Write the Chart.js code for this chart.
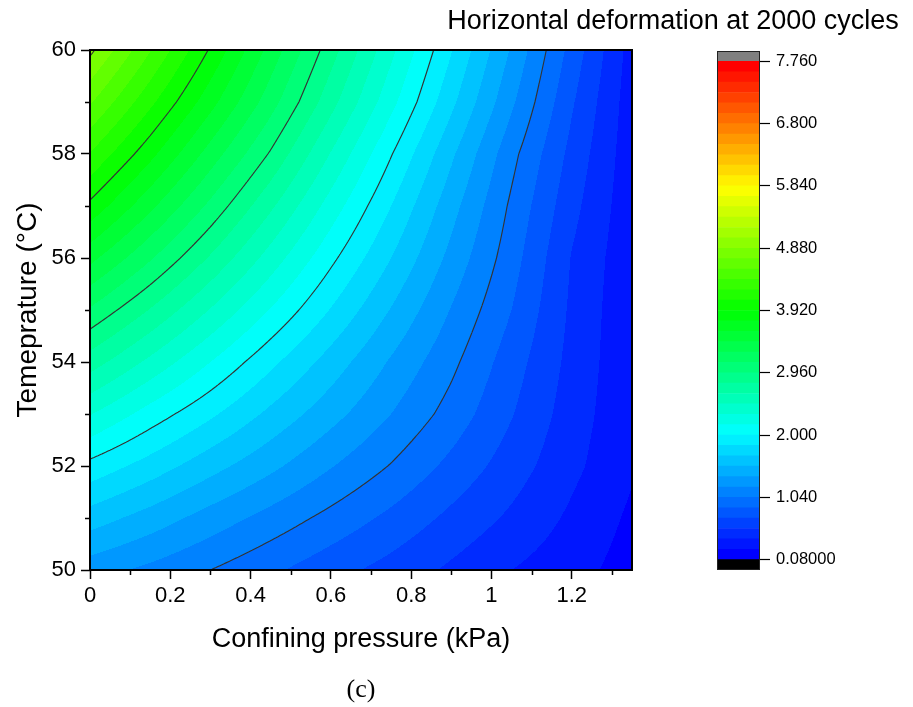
<!DOCTYPE html>
<html><head><meta charset="utf-8">
<script src="https://cdn.jsdelivr.net/npm/chart.js@4.4.1/dist/chart.umd.min.js"></script>
<style>
html,body{margin:0;padding:0;background:#fff;}
#wrap{position:relative;width:913px;height:707px;overflow:hidden;}
#main{position:absolute;left:0;top:0;}
#cbar{position:absolute;left:433px;top:0;}
#cap{position:absolute;left:0;width:722px;top:674px;line-height:30px;text-align:center;font-family:"Liberation Serif","Times New Roman",serif;font-size:26px;color:#000;}
</style></head>
<body><div id="wrap">
<canvas id="main" width="913" height="707"></canvas>
<canvas id="cbar" width="480" height="707"></canvas>
<div id="cap">(c)</div>
</div>
<script>
// ---------------- data ----------------
const pressure = [0, 0.15, 0.3, 0.45, 0.6, 0.75, 0.9, 1.05, 1.2, 1.35];      // kPa
const temperature = [50, 51, 52, 53, 54, 55, 56, 57, 58, 59, 60];            // °C
const defAt50C = [1.27, 1.16, 1.04, 0.91, 0.78, 0.66, 0.53, 0.40, 0.30, 0.17];
const defAt51C = [1.60, 1.45, 1.29, 1.14, 0.99, 0.84, 0.68, 0.53, 0.37, 0.21];
const defAt52C = [1.95, 1.77, 1.58, 1.40, 1.21, 1.03, 0.835, 0.64, 0.44, 0.26];
const defAt53C = [2.33, 2.09, 1.87, 1.64, 1.42, 1.20, 0.976, 0.73, 0.48, 0.27];
const defAt54C = [2.72, 2.44, 2.16, 1.88, 1.61, 1.34, 1.08, 0.795, 0.51, 0.27];
const defAt55C = [3.10, 2.79, 2.47, 2.15, 1.83, 1.51, 1.19, 0.88, 0.53, 0.27];
const defAt56C = [3.49, 3.14, 2.78, 2.41, 2.04, 1.68, 1.31, 0.95, 0.55, 0.28];
const defAt57C = [3.88, 3.48, 3.08, 2.67, 2.25, 1.84, 1.42, 1.01, 0.61, 0.29];
const defAt58C = [4.23, 3.81, 3.37, 2.94, 2.47, 2.01, 1.55, 1.09, 0.67, 0.30];
const defAt59C = [4.58, 4.12, 3.66, 3.19, 2.70, 2.21, 1.72, 1.23, 0.74, 0.31];
const defAt60C = [4.92, 4.41, 3.90, 3.38, 2.87, 2.36, 1.85, 1.34, 0.82, 0.33];
const deformGrid = [defAt50C, defAt51C, defAt52C, defAt53C, defAt54C, defAt55C,
                    defAt56C, defAt57C, defAt58C, defAt59C, defAt60C];

const contourLevels = [1.04, 2.0, 2.96, 3.92, 4.88];
const levelMin = 0.08, levelMax = 7.76, levelStep = 0.16;

const xMajorTicks = [0, 0.2, 0.4, 0.6, 0.8, 1.0, 1.2];
const xTickLabels = ['0', '0.2', '0.4', '0.6', '0.8', '1', '1.2'];
const xMinorTicks = [0.1, 0.3, 0.5, 0.7, 0.9, 1.1, 1.3];
const yMajorTicks = [50, 52, 54, 56, 58, 60];
const yTickLabels = ['50', '52', '54', '56', '58', '60'];
const yMinorTicks = [51, 53, 55, 57, 59];
const cbTicks = [0.08, 1.04, 2.0, 2.96, 3.92, 4.88, 5.84, 6.8, 7.76];
const cbTickLabels = ['0.08000', '1.040', '2.000', '2.960', '3.920', '4.880', '5.840', '6.800', '7.760'];

// ---------------- helpers ----------------
const FONT = '"Liberation Sans", Arial, Helvetica, sans-serif';
Chart.defaults.color = '#000';
Chart.defaults.font.family = FONT;

const nBands = Math.round((levelMax - levelMin) / levelStep); // 48
function rainbow(p) {
  const stops = [[0,0,255],[0,255,255],[0,255,0],[255,255,0],[255,0,0]];
  const s = Math.max(0, Math.min(1, p)) * 4;
  const i = Math.min(3, Math.floor(s)); const t = s - i;
  return stops[i].map((c, j) => Math.round(c + (stops[i+1][j] - c) * t));
}
const BELOW = [0,0,0], ABOVE = [128,128,128];
function bandColor(k) {
  if (k < 0) return BELOW;
  if (k >= nBands) return ABOVE;
  return rainbow(k / (nBands - 1));
}
function fieldAt(xv, tv) {
  let i = 0; while (i < pressure.length - 2 && xv > pressure[i+1]) i++;
  let j = 0; while (j < temperature.length - 2 && tv > temperature[j+1]) j++;
  const u = (xv - pressure[i]) / (pressure[i+1] - pressure[i]);
  const w = (tv - temperature[j]) / (temperature[j+1] - temperature[j]);
  const g = deformGrid;
  return (1-u)*(1-w)*g[j][i] + u*(1-w)*g[j][i+1] + (1-u)*w*g[j+1][i] + u*w*g[j+1][i+1];
}

const gridPoints = [];
temperature.forEach((t, j) => pressure.forEach((p, i) => gridPoints.push({x: p, y: t, v: deformGrid[j][i]})));

// ---------------- contour plugin ----------------
const contourPlugin = {
  id: 'contour',
  beforeDatasetsDraw(chart) {
    const {ctx, chartArea: {left, top, right, bottom}, scales: {x, y}} = chart;
    const L = Math.round(left), T = Math.round(top);
    const W = Math.round(right) - L, H = Math.round(bottom) - T;
    const off = document.createElement('canvas'); off.width = W; off.height = H;
    const octx = off.getContext('2d'); const img = octx.createImageData(W, H);
    const xv = []; for (let px = 0; px < W; px++) xv.push(x.getValueForPixel(L + px + 0.5));
    for (let py = 0; py < H; py++) {
      const tv = y.getValueForPixel(T + py + 0.5);
      for (let px = 0; px < W; px++) {
        const f = fieldAt(xv[px], tv);
        const c = bandColor(Math.floor((f - levelMin) / levelStep + 1e-9));
        const o = (py * W + px) * 4;
        img.data[o] = c[0]; img.data[o+1] = c[1]; img.data[o+2] = c[2]; img.data[o+3] = 255;
      }
    }
    octx.putImageData(img, 0, 0);
    ctx.save();
    ctx.drawImage(off, L, T);
    // contour lines (marching squares on the interpolated field)
    const s = 2;
    const nx = Math.ceil(W / s), ny = Math.ceil(H / s);
    const V = [];
    for (let j = 0; j <= ny; j++) {
      const py = Math.min(T + j * s, T + H);
      const tv = y.getValueForPixel(py);
      const row = [];
      for (let i = 0; i <= nx; i++) {
        const px = Math.min(L + i * s, L + W);
        row.push(fieldAt(x.getValueForPixel(px), tv));
      }
      V.push(row);
    }
    const X = i => Math.min(L + i * s, L + W), Y = j => Math.min(T + j * s, T + H);
    ctx.strokeStyle = '#333'; ctx.lineWidth = 1.15;
    ctx.beginPath(); ctx.rect(left, top, right - left, bottom - top); ctx.clip();
    contourLevels.forEach(lv => {
      ctx.beginPath();
      for (let j = 0; j < ny; j++) for (let i = 0; i < nx; i++) {
        const a = V[j][i], b = V[j][i+1], c = V[j+1][i+1], d = V[j+1][i];
        const pts = [];
        const x0 = X(i), x1 = X(i+1), y0 = Y(j), y1 = Y(j+1);
        if ((a < lv) !== (b < lv)) pts.push([x0 + (lv - a) / (b - a) * (x1 - x0), y0]);
        if ((b < lv) !== (c < lv)) pts.push([x1, y0 + (lv - b) / (c - b) * (y1 - y0)]);
        if ((d < lv) !== (c < lv)) pts.push([x0 + (lv - d) / (c - d) * (x1 - x0), y1]);
        if ((a < lv) !== (d < lv)) pts.push([x0, y0 + (lv - a) / (d - a) * (y1 - y0)]);
        if (pts.length >= 2) { ctx.moveTo(pts[0][0], pts[0][1]); ctx.lineTo(pts[1][0], pts[1][1]); }
        if (pts.length === 4) { ctx.moveTo(pts[2][0], pts[2][1]); ctx.lineTo(pts[3][0], pts[3][1]); }
      }
      ctx.stroke();
    });
    ctx.restore();
  },
  afterDatasetsDraw(chart) {
    const {ctx, chartArea: {left, top, right, bottom}, scales: {x, y}} = chart;
    ctx.save();
    ctx.strokeStyle = '#000'; ctx.lineWidth = 2;
    ctx.strokeRect(left, top, right - left, bottom - top);
    ctx.lineWidth = 1.5;
    ctx.beginPath();
    xMinorTicks.forEach(v => { const px = Math.round(x.getPixelForValue(v)) + 0.5; ctx.moveTo(px, bottom); ctx.lineTo(px, bottom + 5); });
    yMinorTicks.forEach(v => { const py = Math.round(y.getPixelForValue(v)) + 0.5; ctx.moveTo(left, py); ctx.lineTo(left - 5, py); });
    ctx.stroke();
    ctx.restore();
  }
};

new Chart(document.getElementById('main'), {
  type: 'scatter',
  data: {datasets: [{label: 'Horizontal deformation', data: gridPoints, pointRadius: 0, pointHoverRadius: 0, showLine: false}]},
  options: {
    responsive: false, animation: false, devicePixelRatio: 1, events: [],
    layout: {padding: {top: 50, right: 281, left: 0, bottom: 0}},
    plugins: {legend: {display: false}, tooltip: {enabled: false}},
    scales: {
      x: {
        type: 'linear', min: 0, max: 1.35,
        afterBuildTicks: s => { s.ticks = xMajorTicks.map(v => ({value: v})); },
        afterFit: s => { s.height = 137; },
        ticks: {callback: (v, i) => xTickLabels[i], font: {size: 22}, color: '#000', padding: 4, maxRotation: 0, autoSkip: false},
        grid: {drawOnChartArea: false, drawTicks: true, tickLength: 9, tickWidth: 1.5, tickColor: '#000'},
        border: {display: false},
        title: {display: true, text: 'Confining pressure (kPa)', font: {size: 27}, color: '#000', padding: {top: 0, bottom: 51}}
      },
      y: {
        type: 'linear', min: 50, max: 60,
        afterBuildTicks: s => { s.ticks = yMajorTicks.map(v => ({value: v})); },
        afterFit: s => { s.width = 90; },
        ticks: {callback: (v, i) => yTickLabels[i], font: {size: 22}, color: '#000', padding: 5, autoSkip: false},
        grid: {drawOnChartArea: false, drawTicks: true, tickLength: 9, tickWidth: 1.5, tickColor: '#000'},
        border: {display: false},
        title: {display: true, text: 'Temeprature (°C)', font: {size: 28}, color: '#000', padding: {top: 11, bottom: 0}}
      }
    }
  },
  plugins: [contourPlugin]
});

// ---------------- colour bar ----------------
const cbBands = [{lo: levelMin - levelStep, hi: levelMin, color: BELOW}];
for (let k = 0; k < nBands; k++) cbBands.push({lo: levelMin + k * levelStep, hi: levelMin + (k + 1) * levelStep, color: bandColor(k)});
cbBands.push({lo: levelMax, hi: levelMax + levelStep, color: ABOVE});

const cbOutline = {
  id: 'cbOutline',
  afterDatasetsDraw(chart) {
    const {ctx, chartArea: {left, top, right, bottom}} = chart;
    ctx.save(); ctx.strokeStyle = '#222'; ctx.lineWidth = 1;
    ctx.strokeRect(Math.round(left) + 0.5, Math.round(top) + 0.5, Math.round(right - left) - 1, Math.round(bottom - top) - 1);
    ctx.restore();
  }
};

new Chart(document.getElementById('cbar'), {
  type: 'bar',
  data: {labels: [''], datasets: cbBands.map(b => ({
    data: [[b.lo, b.hi]], backgroundColor: 'rgb(' + b.color.join(',') + ')', borderWidth: 0,
    barPercentage: 1, categoryPercentage: 1, grouped: false, yAxisID: 'y', xAxisID: 'x'
  }))},
  options: {
    responsive: false, animation: false, devicePixelRatio: 1, events: [],
    layout: {padding: {top: 0, bottom: 137, left: 0, right: 0}},
    plugins: {
      legend: {display: false}, tooltip: {enabled: false},
      title: {display: true, text: 'Horizontal deformation at 2000 cycles', font: {size: 27, weight: 'normal'}, color: '#000', padding: {top: 5, bottom: 13.6}}
    },
    scales: {
      x: {display: false},
      yl: {position: 'left', display: true, ticks: {display: false}, grid: {display: false}, border: {display: false}, afterFit: s => { s.width = 284; }},
      y: {
        position: 'right', min: levelMin - levelStep, max: levelMax + levelStep,
        afterBuildTicks: s => { s.ticks = cbTicks.map(v => ({value: v})); },
        afterFit: s => { s.width = 153; },
        ticks: {callback: (v, i) => cbTickLabels[i], font: {size: 16.5}, color: '#000', padding: 6, autoSkip: false},
        grid: {drawOnChartArea: false, drawTicks: true, tickLength: 10, tickWidth: 1.2, tickColor: '#000'},
        border: {display: false}
      }
    }
  },
  plugins: [cbOutline]
});
</script>
</body></html>
